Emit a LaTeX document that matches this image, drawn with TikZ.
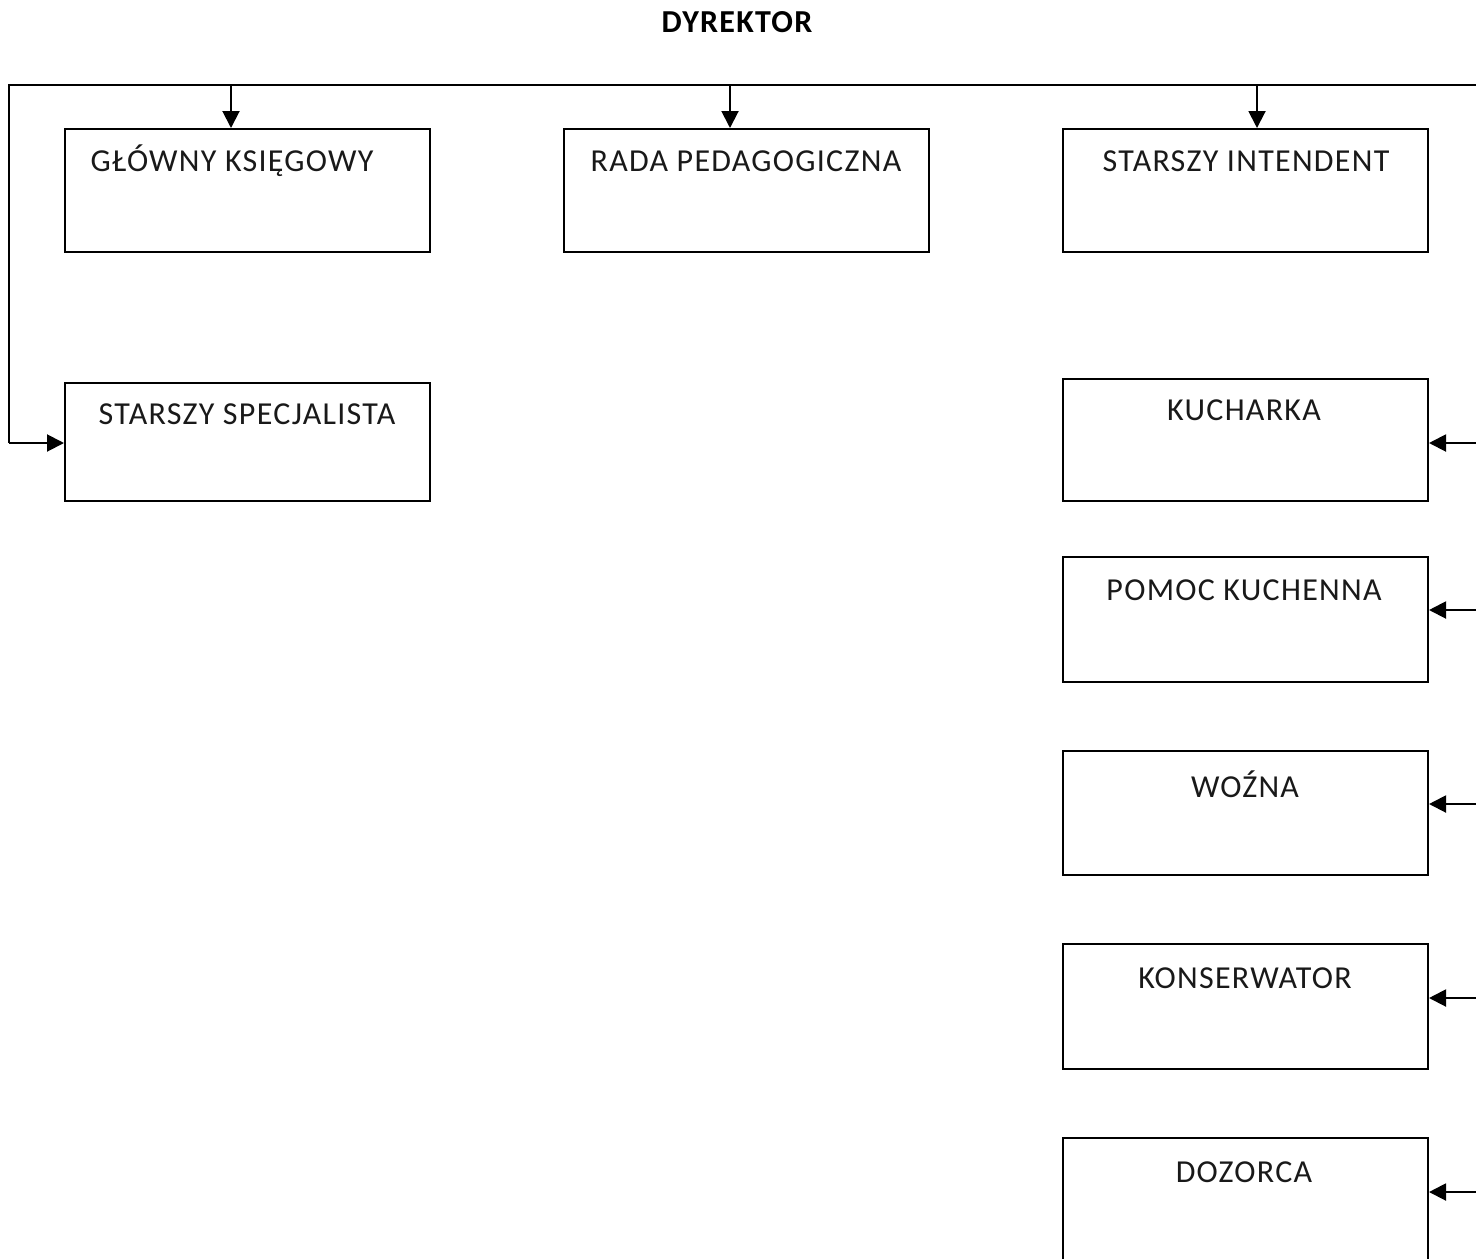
\documentclass[tikz,border=0pt]{standalone}
\usepackage{fontspec}
\setmainfont{Carlito}[LetterSpace=4]
\usetikzlibrary{arrows.meta}
\begin{document}
\begin{tikzpicture}[x=0.5pt,y=-0.5pt,
  box/.style={draw=black,line width=1pt,rectangle,minimum width=182.5pt,minimum height=61.5pt,inner sep=0pt,anchor=north west},
  lbl/.style={font=\fontsize{16}{18}\selectfont,text=black!90,inner sep=0pt,anchor=center},
  conn/.style={line width=1pt,-{Triangle[width=8.5pt,length=8.5pt]}},
  wire/.style={line width=1pt}]
\useasboundingbox (0,0) rectangle (1476,1258);
\clip (0,0) rectangle (1476,1258);
% title
\node[font=\bfseries\fontsize{16}{18}\selectfont,inner sep=0pt] (dyr) at (737,22) {DYREKTOR};
% boxes
\node[box] (gk) at (64,128) {};
\node[box] (rp) at (563,128) {};
\node[box] (si) at (1062,128) {};
\node[box,minimum height=59pt] (ss) at (64,382) {};
\node[box,minimum height=61pt] (ku) at (1062,378) {};
\node[box,minimum height=62.5pt] (pk) at (1062,556) {};
\node[box,minimum height=62pt] (wo) at (1062,750) {};
\node[box,minimum height=62.5pt] (ko) at (1062,943) {};
\node[box,minimum height=62.5pt] (dz) at (1062,1137) {};
% labels
\node[lbl] (tgk) at (232,161) {GŁÓWNY KSIĘGOWY};
\node[lbl] (trp) at (746,161) {RADA PEDAGOGICZNA};
\node[lbl] (tsi) at (1246,161) {STARSZY INTENDENT};
\node[lbl] (tss) at (247,414) {STARSZY SPECJALISTA};
\node[lbl] (tku) at (1244,410) {KUCHARKA};
\node[lbl] (tpk) at (1244,590) {POMOC KUCHENNA};
\node[lbl] (two) at (1245,784) {WOŹNA};
\node[lbl] (tko) at (1245,978) {KONSERWATOR};
\node[lbl] (tdz) at (1244,1172) {DOZORCA};
% bus
\coordinate (bl) at (9,85);
\coordinate (br) at (1500,85);
\coordinate (rb) at (1500,1258);
\coordinate (lb) at (9,443);
\draw[wire] (lb) -- (bl) -- (br) -- (rb);
\coordinate (a1) at (231,85);
\coordinate (a2) at (730,85);
\coordinate (a3) at (1257,85);
\draw[conn] (a1) -- (gk.north -| a1);
\draw[conn] (a2) -- (rp.north -| a2);
\draw[conn] (a3) -- (si.north -| a3);
\draw[conn] (lb) -- (ss.west |- lb);
\coordinate (r1) at (1500,443);
\coordinate (r2) at (1500,610);
\coordinate (r3) at (1500,804);
\coordinate (r4) at (1500,998);
\coordinate (r5) at (1500,1192);
\draw[conn] (r1) -- (ku.east |- r1);
\draw[conn] (r2) -- (pk.east |- r2);
\draw[conn] (r3) -- (wo.east |- r3);
\draw[conn] (r4) -- (ko.east |- r4);
\draw[conn] (r5) -- (dz.east |- r5);
\end{tikzpicture}
\end{document}
